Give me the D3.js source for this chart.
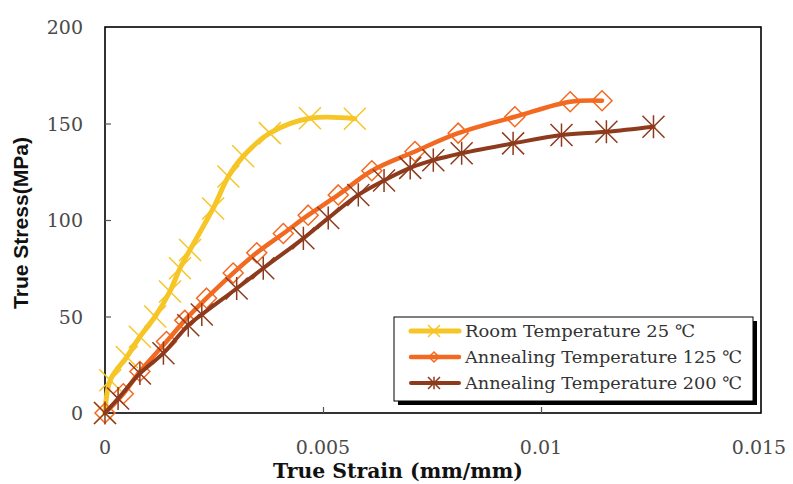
<!DOCTYPE html>
<html>
<head>
<meta charset="utf-8">
<script src="https://cdn.jsdelivr.net/npm/d3@7/dist/d3.min.js"></script>
<style>
  html, body { margin: 0; padding: 0; background: #fff; }
  svg { display: block; }
</style>
</head>
<body>
<svg id="chart" width="793" height="484"></svg>
<script>
// True stress–strain curves for three heat-treatment conditions
const seriesNames = [
  "Room Temperature 25 \u2103",
  "Annealing Temperature 125 \u2103",
  "Annealing Temperature 200 \u2103"
];

const roomStrain = [0, 0.00012, 0.0005, 0.0008, 0.00115, 0.00149, 0.00172, 0.00195, 0.00248, 0.00283, 0.00317, 0.00378, 0.0047, 0.00573];
const roomStress = [0, 17, 29, 39.5, 50, 63, 75, 84.5, 106, 122.5, 133, 145, 152.7, 152.5];

const anneal125Strain = [0, 0.00042, 0.0008, 0.00141, 0.00183, 0.00233, 0.00294, 0.00348, 0.00409, 0.00466, 0.00535, 0.00612, 0.00711, 0.0081, 0.0094, 0.01067, 0.0114];
const anneal125Stress = [0, 10, 21.5, 37, 48, 59.5, 72.5, 83, 93, 102.5, 113, 125.5, 135.5, 145, 153.5, 161.3, 161.8];

const anneal200Strain = [0, 0.0003, 0.0008, 0.00134, 0.00191, 0.00222, 0.00302, 0.00363, 0.00455, 0.00512, 0.00581, 0.0064, 0.007, 0.00753, 0.00818, 0.00936, 0.01047, 0.0115, 0.01258];
const anneal200Stress = [0, 7.5, 20.5, 31, 45.5, 51, 64.5, 75, 90.5, 101, 113, 120.5, 127, 131, 134.6, 139.7, 144, 145.7, 148.3];

const xTicks = [0, 0.005, 0.01, 0.015];
const xTickLabels = ["0", "0.005", "0.01", "0.015"];
const yTicks = [0, 50, 100, 150, 200];
const yTickLabels = ["0", "50", "100", "150", "200"];

const svg = d3.select("#chart");
const plot = { left: 105, right: 761, top: 27, bottom: 413 };

const x = d3.scaleLinear().domain([0, 0.015]).range([plot.left, plot.right - 2]);
const y = d3.scaleLinear().domain([0, 200]).range([plot.bottom, plot.top]);

const series = [
  { name: seriesNames[0], xs: roomStrain, ys: roomStress, color: "#F6C526", width: 5, marker: "x" },
  { name: seriesNames[1], xs: anneal125Strain, ys: anneal125Stress, color: "#F26A22", width: 4.5, marker: "diamond" },
  { name: seriesNames[2], xs: anneal200Strain, ys: anneal200Stress, color: "#8E3A1D", width: 4, marker: "star" }
];

// Plot frame
svg.append("rect")
  .attr("x", plot.left).attr("y", plot.top)
  .attr("width", plot.right - plot.left).attr("height", plot.bottom - plot.top)
  .attr("fill", "none").attr("stroke", "#000").attr("stroke-width", 1.6);

// Inner tick marks
const xAxis = d3.axisTop(x).tickValues(xTicks.slice(1, -1)).tickSize(6).tickFormat("");
svg.append("g").attr("transform", `translate(0,${plot.bottom})`).call(xAxis)
  .call(g => g.select(".domain").remove())
  .selectAll("line").attr("stroke", "#555").attr("stroke-width", 1.2);

const yAxis = d3.axisRight(y).tickValues(yTicks.slice(1, -1)).tickSize(6).tickFormat("");
svg.append("g").attr("transform", `translate(${plot.left},0)`).call(yAxis)
  .call(g => g.select(".domain").remove())
  .selectAll("line").attr("stroke", "#555").attr("stroke-width", 1.2);

// Tick labels
const tickFont = "'DejaVu Serif', 'Liberation Serif', serif";
svg.append("g").selectAll("text").data(xTicks).join("text")
  .attr("x", d => x(d)).attr("y", 454)
  .attr("text-anchor", "middle")
  .attr("font-family", tickFont).attr("font-size", 19)
  .attr("fill", "#4a4a4a")
  .text((d, i) => xTickLabels[i]);

svg.append("g").selectAll("text").data(yTicks).join("text")
  .attr("x", 83).attr("y", d => y(d) + 7)
  .attr("text-anchor", "end")
  .attr("font-family", tickFont).attr("font-size", 19)
  .attr("fill", "#4a4a4a")
  .text((d, i) => yTickLabels[i]);

// Axis titles
svg.append("text")
  .attr("x", 398).attr("y", 478)
  .attr("text-anchor", "middle")
  .attr("font-family", tickFont).attr("font-size", 20).attr("font-weight", "bold")
  .attr("textLength", 250).attr("lengthAdjust", "spacingAndGlyphs")
  .attr("fill", "#111")
  .text("True Strain (mm/mm)");

svg.append("text")
  .attr("transform", "translate(28,223) rotate(-90)")
  .attr("text-anchor", "middle")
  .attr("font-family", "'Liberation Sans', Arial, sans-serif").attr("font-size", 20).attr("font-weight", "bold")
  .attr("textLength", 172).attr("lengthAdjust", "spacingAndGlyphs")
  .attr("fill", "#111")
  .text("True Stress(MPa)");

// Marker shapes
function drawMarker(g, type, cx, cy, r, color) {
  if (type === "x") {
    g.append("path")
      .attr("d", `M${cx - r},${cy - r}L${cx + r},${cy + r}M${cx - r},${cy + r}L${cx + r},${cy - r}`)
      .attr("stroke", color).attr("stroke-width", 1.5).attr("fill", "none");
  } else if (type === "diamond") {
    g.append("path")
      .attr("d", `M${cx},${cy - r}L${cx + r},${cy}L${cx},${cy + r}L${cx - r},${cy}Z`)
      .attr("stroke", color).attr("stroke-width", 1.5).attr("fill", "none");
  } else {
    g.append("path")
      .attr("d", `M${cx - r},${cy - r}L${cx + r},${cy + r}M${cx - r},${cy + r}L${cx + r},${cy - r}M${cx},${cy - r * 1.05}L${cx},${cy + r * 1.05}`)
      .attr("stroke", color).attr("stroke-width", 1.5).attr("fill", "none");
  }
}

const line = d3.line()
  .x(d => x(d[0])).y(d => y(d[1]))
  .curve(d3.curveCatmullRom.alpha(0.5));

const markerSize = { x: 11, diamond: 10, star: 11 };

series.forEach(s => {
  const pts = s.xs.map((v, i) => [v, s.ys[i]]);
  const g = svg.append("g");
  g.append("path")
    .attr("d", line(pts))
    .attr("fill", "none").attr("stroke", s.color)
    .attr("stroke-width", s.width).attr("stroke-linejoin", "round").attr("stroke-linecap", "round");
  pts.forEach(p => drawMarker(g, s.marker, x(p[0]), y(p[1]), markerSize[s.marker], s.color));
});

// Legend
const legend = { x: 394, y: 317, w: 359, h: 84 };
const lg = svg.append("g");
lg.append("rect")
  .attr("x", legend.x + 4).attr("y", legend.y + 4)
  .attr("width", legend.w).attr("height", legend.h).attr("fill", "#000");
lg.append("rect")
  .attr("x", legend.x).attr("y", legend.y)
  .attr("width", legend.w).attr("height", legend.h)
  .attr("fill", "#fff").attr("stroke", "#000").attr("stroke-width", 1);

const rowY = [331, 357, 383];
const textLens = [230, 277, 277];
series.forEach((s, i) => {
  lg.append("line")
    .attr("x1", 411).attr("x2", 459).attr("y1", rowY[i]).attr("y2", rowY[i])
    .attr("stroke", s.color).attr("stroke-width", s.width).attr("stroke-linecap", "round");
  drawMarker(lg, s.marker, 434, rowY[i], s.marker === "diamond" ? 5 : 6, s.color);
  lg.append("text")
    .attr("x", 465).attr("y", rowY[i] + 6)
    .attr("font-family", tickFont).attr("font-size", 17)
    .attr("textLength", textLens[i]).attr("lengthAdjust", "spacingAndGlyphs")
    .attr("fill", "#333")
    .text(s.name);
});
</script>
</body>
</html>
